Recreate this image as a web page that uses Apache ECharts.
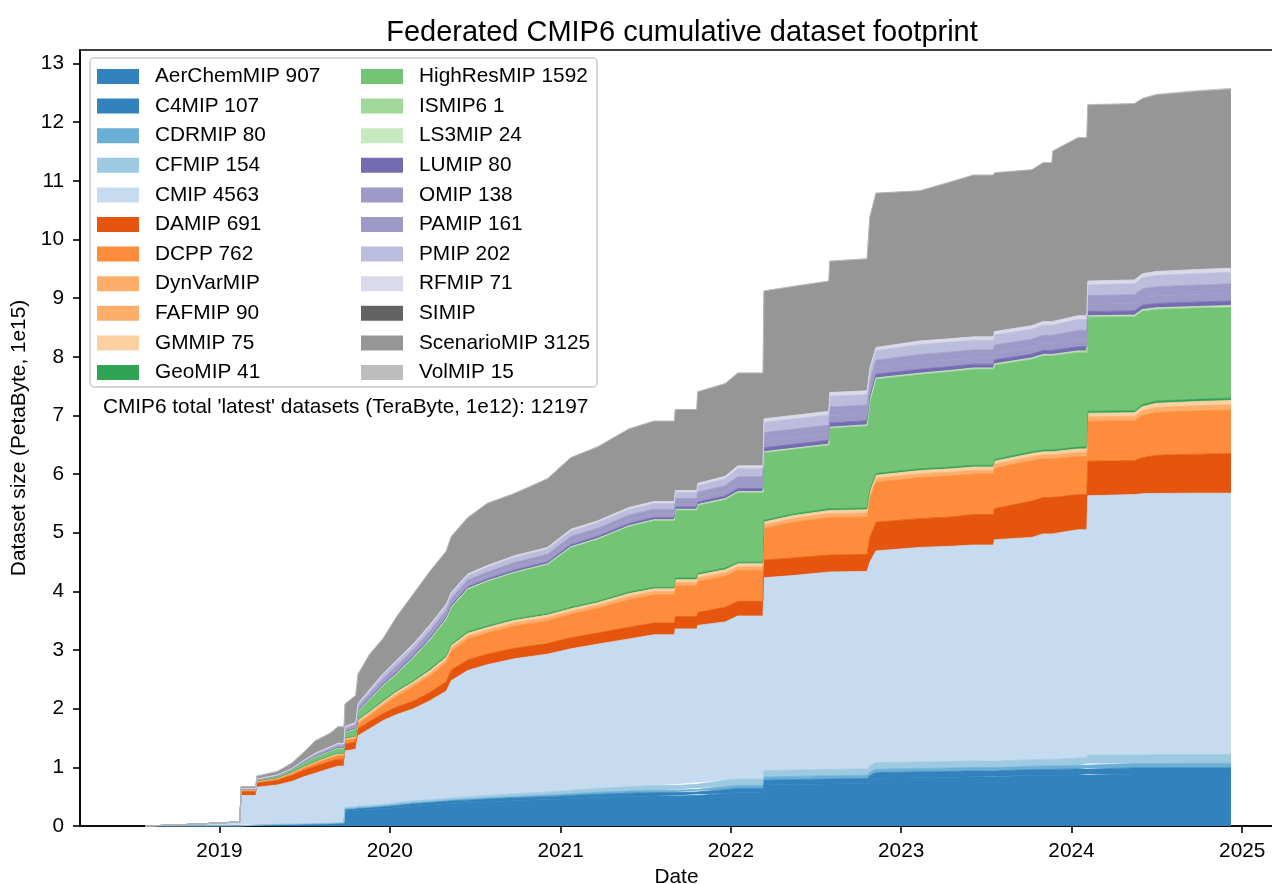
<!DOCTYPE html>
<html>
<head>
<meta charset="utf-8">
<title>Federated CMIP6 cumulative dataset footprint</title>
<script src="https://cdn.jsdelivr.net/npm/echarts@6/dist/echarts.min.js"></script>
<style>
  html, body { margin: 0; padding: 0; background: #fff; }
  #chart { width: 1272px; height: 884px; }
</style>
</head>
<body>
<div id="chart"></div>
<script>
// snapshot dates (size of 'latest' datasets per MIP, PB)
const dates = [
  '2018-07-26', '2018-10-05', '2018-12-01', '2019-01-20', '2019-02-14',
  '2019-02-16', '2019-03-20', '2019-03-22', '2019-05-05', '2019-06-05',
  '2019-07-01', '2019-07-25', '2019-08-26', '2019-09-12', '2019-09-25',
  '2019-09-27', '2019-10-20', '2019-10-25', '2019-11-19', '2019-12-18',
  '2020-01-16', '2020-02-21', '2020-03-28', '2020-05-01', '2020-05-12',
  '2020-06-16', '2020-07-28', '2020-09-24', '2020-12-04', '2021-01-23',
  '2021-03-21', '2021-05-28', '2021-07-20', '2021-09-02', '2021-09-04',
  '2021-10-20', '2021-10-22', '2021-12-20', '2022-01-16', '2022-03-11',
  '2022-03-13', '2022-05-15', '2022-07-30', '2022-08-01', '2022-10-20',
  '2022-10-26', '2022-11-08', '2023-02-10', '2023-04-20', '2023-06-05',
  '2023-07-18', '2023-07-20', '2023-10-08', '2023-11-01', '2023-11-20',
  '2023-11-22', '2024-01-15', '2024-02-03', '2024-02-05', '2024-05-15',
  '2024-06-01', '2024-07-01', '2024-10-01', '2024-12-08'
];

const legendLabels = [
  'AerChemMIP 907', 'C4MIP 107', 'CDRMIP 80', 'CFMIP 154', 'CMIP 4563', 'DAMIP 691', 'DCPP 762', 'DynVarMIP',
  'FAFMIP 90', 'GMMIP 75', 'GeoMIP 41', 'HighResMIP 1592', 'ISMIP6 1', 'LS3MIP 24', 'LUMIP 80', 'OMIP 138',
  'PAMIP 161', 'PMIP 202', 'RFMIP 71', 'SIMIP', 'ScenarioMIP 3125', 'VolMIP 15'
];

// tab20c
const colors = [
  '#3182bd', '#3182bd', '#6baed6', '#9ecae1', '#c6dbef', '#e6550d', '#fd8d3c', '#fdae6b',
  '#fdae6b', '#fdd0a2', '#31a354', '#74c476', '#a1d99b', '#c7e9c0', '#756bb1', '#9e9ac8',
  '#9e9ac8', '#bcbddc', '#dadaeb', '#636363', '#969696', '#bdbdbd'
];

const aerChemMIP = [
  0, 0, 0, 0, 0,
  0.009, 0.009, 0.013, 0.018, 0.018,
  0.022, 0.027, 0.031, 0.036, 0.036,
  0.25, 0.26, 0.27, 0.28, 0.30,
  0.31, 0.34, 0.36, 0.38, 0.385,
  0.395, 0.41, 0.43, 0.45, 0.465,
  0.485, 0.50, 0.51, 0.51, 0.52,
  0.52, 0.54, 0.555, 0.575, 0.575,
  0.70, 0.707, 0.716, 0.716, 0.725,
  0.77, 0.815, 0.823, 0.832, 0.841,
  0.841, 0.85, 0.86, 0.864, 0.864,
  0.864, 0.868, 0.868, 0.886, 0.886,
  0.886, 0.886, 0.886, 0.886
];
const c4MIP = [
  0, 0, 0, 0, 0,
  0.001, 0.001, 0.002, 0.002, 0.002,
  0.003, 0.003, 0.004, 0.004, 0.004,
  0.03, 0.03, 0.03, 0.03, 0.03,
  0.04, 0.04, 0.04, 0.04, 0.045,
  0.045, 0.05, 0.05, 0.05, 0.055,
  0.055, 0.06, 0.06, 0.06, 0.06,
  0.06, 0.06, 0.065, 0.065, 0.065,
  0.08, 0.083, 0.084, 0.084, 0.085,
  0.09, 0.095, 0.097, 0.098, 0.099,
  0.099, 0.10, 0.10, 0.101, 0.101,
  0.101, 0.102, 0.102, 0.104, 0.104,
  0.104, 0.104, 0.104, 0.104
];
const cdrMIP = [
  0, 0, 0, 0, 0,
  0.003, 0.003, 0.003, 0.003, 0.005,
  0.005, 0.005, 0.005, 0.007, 0.007,
  0.014, 0.014, 0.014, 0.014, 0.014,
  0.017, 0.017, 0.017, 0.017, 0.017,
  0.02, 0.02, 0.024, 0.027, 0.03,
  0.034, 0.037, 0.04, 0.04, 0.044,
  0.044, 0.048, 0.054, 0.054, 0.054,
  0.055, 0.056, 0.056, 0.056, 0.056,
  0.058, 0.058, 0.058, 0.058, 0.058,
  0.058, 0.058, 0.058, 0.058, 0.058,
  0.058, 0.065, 0.065, 0.075, 0.075,
  0.075, 0.077, 0.078, 0.078
];
const cfMIP = [
  0, 0, 0, 0, 0,
  0.007, 0.007, 0.007, 0.007, 0.010,
  0.010, 0.010, 0.010, 0.013, 0.013,
  0.026, 0.026, 0.026, 0.026, 0.026,
  0.033, 0.033, 0.033, 0.033, 0.033,
  0.04, 0.04, 0.046, 0.053, 0.06,
  0.066, 0.073, 0.08, 0.08, 0.086,
  0.086, 0.092, 0.106, 0.106, 0.106,
  0.107, 0.109, 0.109, 0.109, 0.109,
  0.112, 0.112, 0.112, 0.112, 0.112,
  0.112, 0.112, 0.112, 0.112, 0.112,
  0.112, 0.125, 0.125, 0.145, 0.145,
  0.145, 0.150, 0.150, 0.150
];
const cmip = [
  0, 0.02, 0.04, 0.06, 0.07,
  0.50, 0.50, 0.635, 0.67, 0.725,
  0.80, 0.855, 0.93, 0.96, 0.96,
  0.96, 0.98, 1.20, 1.31, 1.43,
  1.50, 1.57, 1.69, 1.83, 2.00,
  2.15, 2.23, 2.30, 2.35, 2.41,
  2.46, 2.52, 2.57, 2.57, 2.65,
  2.65, 2.68, 2.70, 2.78, 2.78,
  3.29, 3.315, 3.365, 3.365, 3.365,
  3.47, 3.61, 3.66, 3.67, 3.68,
  3.68, 3.76, 3.79, 3.845, 3.845,
  3.845, 3.89, 3.89, 4.42, 4.44,
  4.455, 4.453, 4.457, 4.456
];
const damip = [
  0, 0, 0, 0, 0,
  0.07, 0.07, 0.07, 0.08, 0.10,
  0.11, 0.12, 0.12, 0.12, 0.12,
  0.12, 0.12, 0.12, 0.12, 0.12,
  0.13, 0.13, 0.14, 0.16, 0.18,
  0.18, 0.18, 0.18, 0.18, 0.19,
  0.19, 0.20, 0.20, 0.20, 0.21,
  0.21, 0.22, 0.25, 0.25, 0.25,
  0.30, 0.30, 0.29, 0.29, 0.29,
  0.42, 0.49, 0.49, 0.50, 0.52,
  0.52, 0.53, 0.62, 0.62, 0.62,
  0.62, 0.60, 0.60, 0.59, 0.58,
  0.615, 0.65, 0.665, 0.675
];
const dcpp = [
  0, 0, 0, 0, 0,
  0.02, 0.02, 0.02, 0.02, 0.03,
  0.04, 0.05, 0.06, 0.06, 0.06,
  0.06, 0.06, 0.08, 0.10, 0.13,
  0.18, 0.25, 0.28, 0.32, 0.32,
  0.36, 0.36, 0.38, 0.39, 0.40,
  0.42, 0.47, 0.48, 0.48, 0.52,
  0.52, 0.53, 0.53, 0.53, 0.53,
  0.54, 0.61, 0.64, 0.64, 0.64,
  0.66, 0.68, 0.70, 0.70, 0.69,
  0.69, 0.69, 0.69, 0.66, 0.66,
  0.66, 0.65, 0.65, 0.68, 0.68,
  0.72, 0.73, 0.74, 0.744
];
const dynVarMIP = [
  0, 0, 0, 0, 0, 0, 0, 0, 0, 0, 0, 0, 0, 0, 0, 0,
  0, 0, 0, 0, 0, 0, 0, 0, 0, 0, 0, 0, 0, 0, 0, 0,
  0, 0, 0, 0, 0, 0, 0, 0, 0, 0, 0, 0, 0, 0, 0, 0,
  0, 0, 0, 0, 0, 0, 0, 0, 0, 0, 0, 0, 0, 0, 0, 0
];
const fafMIP = [
  0, 0, 0, 0, 0,
  0.004, 0.004, 0.009, 0.009, 0.013,
  0.013, 0.013, 0.018, 0.018, 0.018,
  0.018, 0.02, 0.035, 0.035, 0.040,
  0.044, 0.044, 0.053, 0.053, 0.053,
  0.053, 0.053, 0.053, 0.053, 0.053,
  0.053, 0.057, 0.057, 0.057, 0.06,
  0.06, 0.06, 0.06, 0.06, 0.06,
  0.062, 0.062, 0.066, 0.066, 0.066,
  0.066, 0.066, 0.066, 0.066, 0.066,
  0.066, 0.066, 0.066, 0.066, 0.066,
  0.066, 0.070, 0.070, 0.075, 0.075,
  0.082, 0.086, 0.087, 0.088
];
const gmMIP = [
  0, 0, 0, 0, 0,
  0.004, 0.004, 0.007, 0.007, 0.011,
  0.011, 0.011, 0.014, 0.014, 0.014,
  0.014, 0.016, 0.029, 0.029, 0.032,
  0.036, 0.036, 0.043, 0.043, 0.043,
  0.043, 0.043, 0.043, 0.043, 0.043,
  0.043, 0.046, 0.046, 0.046, 0.05,
  0.05, 0.05, 0.05, 0.05, 0.05,
  0.05, 0.05, 0.054, 0.054, 0.054,
  0.054, 0.054, 0.054, 0.054, 0.054,
  0.054, 0.054, 0.054, 0.054, 0.054,
  0.054, 0.058, 0.058, 0.062, 0.062,
  0.068, 0.071, 0.072, 0.073
];
const geoMIP = [
  0, 0, 0, 0, 0,
  0.002, 0.002, 0.004, 0.004, 0.006,
  0.006, 0.006, 0.008, 0.008, 0.008,
  0.008, 0.009, 0.016, 0.016, 0.018,
  0.020, 0.020, 0.024, 0.024, 0.024,
  0.024, 0.024, 0.024, 0.024, 0.024,
  0.024, 0.026, 0.026, 0.026, 0.028,
  0.028, 0.028, 0.028, 0.028, 0.028,
  0.028, 0.028, 0.030, 0.030, 0.030,
  0.030, 0.030, 0.030, 0.030, 0.030,
  0.030, 0.030, 0.030, 0.030, 0.030,
  0.030, 0.032, 0.032, 0.033, 0.033,
  0.035, 0.038, 0.039, 0.040
];
const highResMIP = [
  0, 0, 0, 0, 0,
  0.01, 0.01, 0.02, 0.03, 0.04,
  0.06, 0.08, 0.08, 0.09, 0.09,
  0.10, 0.12, 0.13, 0.20, 0.26,
  0.29, 0.397, 0.506, 0.63, 0.63,
  0.73, 0.763, 0.79, 0.84, 1.02,
  1.06, 1.12, 1.14, 1.14, 1.16,
  1.16, 1.16, 1.17, 1.19, 1.19,
  1.155, 1.105, 1.084, 1.374, 1.404,
  1.513, 1.612, 1.611, 1.631, 1.64,
  1.64, 1.61, 1.58, 1.61, 1.61,
  1.61, 1.619, 1.619, 1.608, 1.608,
  1.597, 1.566, 1.557, 1.555
];
const ismip6 = [
  0, 0, 0, 0, 0, 0, 0, 0, 0, 0, 0, 0, 0, 0, 0, 0,
  0, 0, 0, 0, 0, 0.001, 0.001, 0.001, 0.001, 0.001, 0.001, 0.001, 0.001, 0.001, 0.001, 0.001,
  0.001, 0.001, 0.001, 0.001, 0.001, 0.001, 0.001, 0.001, 0.001, 0.001, 0.001, 0.001, 0.001, 0.001, 0.001, 0.001,
  0.001, 0.001, 0.001, 0.001, 0.001, 0.001, 0.001, 0.001, 0.001, 0.001, 0.001, 0.001, 0.001, 0.001, 0.001, 0.001
];
const ls3MIP = [
  0, 0, 0, 0, 0,
  0, 0, 0, 0, 0,
  0, 0, 0, 0, 0,
  0, 0, 0, 0, 0,
  0, 0.002, 0.003, 0.004, 0.005,
  0.006, 0.006, 0.007, 0.008, 0.009,
  0.010, 0.011, 0.012, 0.012, 0.012,
  0.012, 0.013, 0.013, 0.013, 0.013,
  0.014, 0.014, 0.015, 0.015, 0.015,
  0.016, 0.017, 0.018, 0.018, 0.019,
  0.019, 0.019, 0.019, 0.019, 0.019,
  0.019, 0.020, 0.020, 0.021, 0.021,
  0.022, 0.023, 0.023, 0.023
];
const luMIP = [
  0, 0, 0, 0, 0,
  0.001, 0.001, 0.001, 0.002, 0.002,
  0.005, 0.007, 0.008, 0.010, 0.010,
  0.012, 0.013, 0.017, 0.020, 0.024,
  0.028, 0.028, 0.030, 0.030, 0.030,
  0.030, 0.031, 0.034, 0.034, 0.036,
  0.036, 0.037, 0.037, 0.037, 0.038,
  0.038, 0.043, 0.046, 0.053, 0.053,
  0.067, 0.067, 0.067, 0.071, 0.070,
  0.066, 0.062, 0.066, 0.065, 0.064,
  0.064, 0.066, 0.066, 0.067, 0.067,
  0.067, 0.072, 0.072, 0.071, 0.072,
  0.073, 0.074, 0.076, 0.078
];
const omip = [
  0, 0, 0, 0, 0,
  0.002, 0.002, 0.002, 0.004, 0.004,
  0.008, 0.013, 0.015, 0.017, 0.017,
  0.021, 0.023, 0.029, 0.036, 0.042,
  0.048, 0.048, 0.053, 0.053, 0.053,
  0.053, 0.055, 0.059, 0.059, 0.063,
  0.063, 0.065, 0.065, 0.065, 0.067,
  0.067, 0.076, 0.080, 0.092, 0.092,
  0.118, 0.118, 0.118, 0.124, 0.122,
  0.116, 0.109, 0.116, 0.113, 0.111,
  0.111, 0.116, 0.116, 0.118, 0.118,
  0.118, 0.126, 0.126, 0.124, 0.126,
  0.128, 0.130, 0.132, 0.135
];
const pamip = [
  0, 0, 0, 0, 0,
  0.003, 0.003, 0.003, 0.005, 0.005,
  0.010, 0.015, 0.018, 0.020, 0.020,
  0.025, 0.028, 0.035, 0.043, 0.050,
  0.058, 0.058, 0.062, 0.062, 0.062,
  0.062, 0.065, 0.070, 0.070, 0.075,
  0.075, 0.078, 0.078, 0.078, 0.080,
  0.080, 0.090, 0.095, 0.110, 0.110,
  0.140, 0.140, 0.140, 0.148, 0.145,
  0.138, 0.130, 0.138, 0.135, 0.133,
  0.133, 0.138, 0.138, 0.140, 0.140,
  0.140, 0.150, 0.150, 0.148, 0.150,
  0.153, 0.155, 0.158, 0.157
];
const pmip = [
  0, 0, 0, 0, 0,
  0.003, 0.003, 0.003, 0.007, 0.007,
  0.012, 0.019, 0.022, 0.025, 0.025,
  0.031, 0.034, 0.043, 0.053, 0.062,
  0.071, 0.071, 0.078, 0.078, 0.078,
  0.078, 0.081, 0.087, 0.087, 0.093,
  0.093, 0.096, 0.096, 0.096, 0.099,
  0.099, 0.112, 0.118, 0.136, 0.136,
  0.174, 0.174, 0.174, 0.183, 0.180,
  0.170, 0.161, 0.170, 0.167, 0.164,
  0.164, 0.170, 0.170, 0.174, 0.174,
  0.174, 0.186, 0.186, 0.183, 0.186,
  0.189, 0.192, 0.195, 0.197
];
const rfMIP = [
  0, 0, 0, 0, 0,
  0.001, 0.001, 0.001, 0.002, 0.002,
  0.005, 0.006, 0.007, 0.008, 0.008,
  0.011, 0.012, 0.016, 0.018, 0.022,
  0.025, 0.025, 0.027, 0.027, 0.027,
  0.027, 0.028, 0.030, 0.030, 0.033,
  0.033, 0.034, 0.034, 0.034, 0.036,
  0.036, 0.039, 0.041, 0.049, 0.049,
  0.061, 0.061, 0.061, 0.064, 0.063,
  0.060, 0.058, 0.060, 0.060, 0.058,
  0.058, 0.060, 0.060, 0.061, 0.061,
  0.061, 0.066, 0.066, 0.064, 0.066,
  0.067, 0.069, 0.069, 0.069
];
const siMIP = [
  0, 0, 0, 0, 0, 0, 0, 0, 0, 0, 0, 0, 0, 0, 0, 0,
  0, 0, 0, 0, 0, 0, 0, 0, 0, 0, 0, 0, 0, 0, 0, 0,
  0, 0, 0, 0, 0, 0, 0, 0, 0, 0, 0, 0, 0, 0, 0, 0,
  0, 0, 0, 0, 0, 0, 0, 0, 0, 0, 0, 0, 0, 0, 0, 0
];
const scenarioMIP = [
  0, 0, 0, 0, 0,
  0.03, 0.03, 0.05, 0.06, 0.09,
  0.14, 0.21, 0.23, 0.28, 0.28,
  0.38, 0.46, 0.50, 0.60, 0.60,
  0.74, 0.85, 0.91, 0.90, 0.95,
  0.96, 1.06, 1.06, 1.17, 1.22,
  1.26, 1.34, 1.37, 1.37, 1.38,
  1.38, 1.56, 1.58, 1.58, 1.58,
  2.178, 2.198, 2.218, 2.238, 2.248,
  2.568, 2.627, 2.556, 2.675, 2.754,
  2.754, 2.703, 2.652, 2.702, 2.702,
  2.902, 3.03, 3.03, 2.998, 2.998,
  2.978, 3.005, 3.035, 3.052
];
const volMIP = [
  0, 0, 0, 0, 0, 0, 0, 0, 0, 0,
  0, 0, 0, 0, 0, 0, 0, 0, 0, 0,
  0, 0, 0, 0, 0, 0, 0, 0, 0, 0,
  0, 0, 0, 0, 0, 0, 0, 0, 0, 0,
  0.002, 0.002, 0.002, 0.002, 0.002,
  0.002, 0.003, 0.004, 0.005, 0.006,
  0.006, 0.007, 0.008, 0.008, 0.008,
  0.008, 0.010, 0.010, 0.012, 0.012,
  0.013, 0.014, 0.015, 0.015
];

const seriesValues = [
  aerChemMIP, c4MIP, cdrMIP, cfMIP, cmip, damip, dcpp, dynVarMIP,
  fafMIP, gmMIP, geoMIP, highResMIP, ismip6, ls3MIP, luMIP, omip,
  pamip, pmip, rfMIP, siMIP, scenarioMIP, volMIP
];
// MIPs with no 'latest' data: no edge line
const emptyMips = ['DynVarMIP', 'SIMIP'];

const yTicks = [0, 1, 2, 3, 4, 5, 6, 7, 8, 9, 10, 11, 12, 13];
const noteText = "CMIP6 total 'latest' datasets (TeraByte, 1e12): 12197";

const FONT = '"Liberation Sans", Arial, Helvetica, sans-serif';
const FS = 20.8;
const YEAR_MS = 365 * 24 * 3600 * 1000;

const chart = echarts.init(document.getElementById('chart'), null, { renderer: 'canvas' });

const series = legendLabels.map((name, k) => ({
  name: name,
  type: 'line',
  stack: 'total',
  symbol: 'none',
  showSymbol: false,
  color: colors[k],
  lineStyle: { width: emptyMips.includes(name) ? 0 : 0.8, color: colors[k] },
  areaStyle: { color: colors[k], opacity: 1 },
  emphasis: { disabled: true },
  data: dates.map((d, i) => [d, seriesValues[k][i]])
}));

const legendBase = {
  orient: 'vertical',
  top: 66,
  itemWidth: 42,
  itemHeight: 15,
  itemGap: 8.6,
  icon: 'rect',
  selectedMode: false,
  padding: 0,
  textStyle: { fontSize: FS, color: '#000', fontFamily: FONT, lineHeight: 20.8, padding: [0, 0, 0, 11] }
};

const option = {
  animation: false,
  backgroundColor: '#fff',
  textStyle: { fontFamily: FONT },
  title: {
    text: 'Federated CMIP6 cumulative dataset footprint',
    left: 677,
    top: 13,
    textAlign: 'center',
    textStyle: { fontSize: 29, fontWeight: 'normal', color: '#000', fontFamily: FONT }
  },
  legend: [
    Object.assign({}, legendBase, { left: 97, data: legendLabels.slice(0, 11) }),
    Object.assign({}, legendBase, { left: 361, data: legendLabels.slice(11) })
  ],
  graphic: [
    {
      type: 'rect',
      z: 3,
      shape: { x: 90, y: 58, width: 507, height: 329, r: 4 },
      style: { fill: '#fff', stroke: '#cccccc', lineWidth: 1.5 }
    },
    {
      type: 'text',
      z: 5,
      left: 103,
      top: 397,
      style: { text: noteText, fontSize: FS, fontFamily: FONT, fill: '#000' }
    }
  ],
  grid: {
    left: 80, right: -1, top: 50, bottom: 58,
    outerBoundsMode: 'none',
    containLabel: false,
    show: true, borderColor: '#000', borderWidth: 1.6, backgroundColor: 'transparent'
  },
  xAxis: {
    type: 'time',
    min: '2018-03-08',
    max: '2025-03-08',
    minInterval: YEAR_MS,
    maxInterval: YEAR_MS,
    name: 'Date',
    nameLocation: 'middle',
    nameGap: 40,
    nameTextStyle: { fontSize: FS, color: '#000', fontFamily: FONT },
    axisLine: { show: true, onZero: false, lineStyle: { color: '#000', width: 1.6 } },
    axisTick: { show: true, length: 7, lineStyle: { color: '#000', width: 1.6 } },
    axisLabel: {
      formatter: '{yyyy}',
      showMinLabel: false,
      showMaxLabel: false,
      fontSize: FS, color: '#000', fontFamily: FONT, margin: 15
    },
    splitLine: { show: false },
    minorTick: { show: false }
  },
  yAxis: {
    type: 'value',
    min: 0,
    max: 13.23,
    interval: 1,
    name: 'Dataset size (PetaByte, 1e15)',
    nameLocation: 'middle',
    nameGap: 48,
    nameRotate: 90,
    nameTextStyle: { fontSize: FS, color: '#000', fontFamily: FONT },
    axisLine: { show: true, lineStyle: { color: '#000', width: 1.6 } },
    axisTick: { show: true, length: 7, lineStyle: { color: '#000', width: 1.6 }, customValues: yTicks },
    axisLabel: { customValues: yTicks, fontSize: FS, color: '#000', fontFamily: FONT, margin: 16 },
    splitLine: { show: false }
  },
  series: series
};

chart.setOption(option);
</script>
</body>
</html>
